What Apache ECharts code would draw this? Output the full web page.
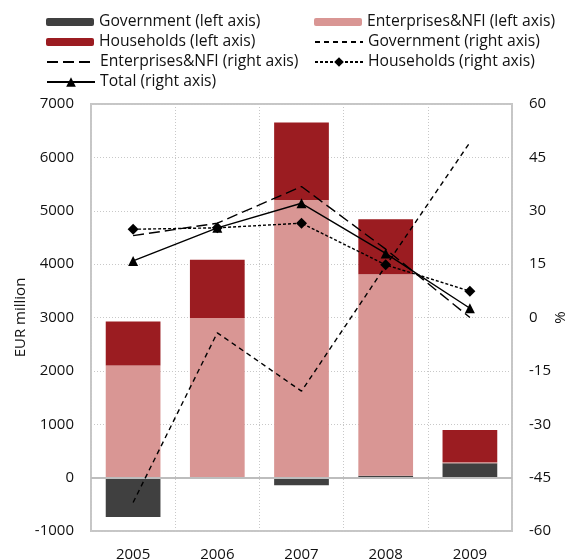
<!DOCTYPE html>
<html>
<head>
<meta charset="utf-8">
<script src="https://cdn.jsdelivr.net/npm/echarts@6/dist/echarts.min.js"></script>
<style>
  html, body { margin: 0; padding: 0; background: #fff; }
  #chart { width: 568px; height: 560px; }
</style>
</head>
<body>
<div id="chart"></div>
<script>
// Categories
const years = ['2005', '2006', '2007', '2008', '2009'];

// Stacked bars, EUR million (left axis)
const govBar = [-740, -25, -145, 35, 268];
const entBar = [2100, 2990, 5200, 3775, 20];
const hhBar  = [825, 1090, 1455, 1030, 605];

// Growth rates, % (right axis)
const govPct = [-52, -4.3, -20.7, 14.5, 49.2];
const entPct = [23, 26.5, 36.8, 19.2, 0];
const hhPct  = [24.8, 25.2, 26.5, 14.8, 7.4];
const totPct = [15.9, 25.2, 32.1, 18.0, 2.6];

// Axis ranges and ticks
const leftAxis  = { min: -1000, max: 7000, interval: 1000 };
const rightAxis = { min: -60, max: 60, interval: 15 };

const FONT = '"Open Sans", "Noto Sans", sans-serif';
const TXT = '#111';
const C_GOV = '#404040';
const C_ENT = '#d99694';
const C_HH  = '#9b1c21';

const chart = echarts.init(document.getElementById('chart'), null, { renderer: 'canvas' });

const legendText = { fontFamily: FONT, fontSize: 15.7, color: TXT, lineHeight: 16 };
const legendBase = {
  orient: 'vertical', itemWidth: 48, itemGap: 4, padding: 0,
  textStyle: legendText, selectedMode: false
};
// line-only legend entries: keep the dashed line, drop the marker
const noMarker = { color: 'rgba(0,0,0,0)', borderWidth: 0 };
const plain = v => String(v);

chart.setOption({
  animation: false,
  backgroundColor: '#fff',
  textStyle: { fontFamily: FONT },
  legend: [
    Object.assign({}, legendBase, { left: 46, top: 14, itemHeight: 8,
      data: ['Government (left axis)', 'Households (left axis)'] }),
    Object.assign({}, legendBase, { left: 314, top: 14, itemHeight: 8,
      data: ['Enterprises&NFI (left axis)'] }),
    Object.assign({}, legendBase, { left: 46, top: 54, itemHeight: 12,
      data: [{ name: 'Enterprises&NFI (right axis)', itemStyle: noMarker }, 'Total (right axis)'] }),
    Object.assign({}, legendBase, { left: 314, top: 34, itemHeight: 12,
      data: [{ name: 'Government (right axis)', itemStyle: noMarker }, 'Households (right axis)'] })
  ],
  grid: { left: 91, right: 56, top: 104, bottom: 29, show: true,
          outerBoundsMode: 'none', containLabel: false,
          borderColor: '#c6c6c6', borderWidth: 2, backgroundColor: 'transparent' },
  xAxis: {
    type: 'category', data: years, boundaryGap: true,
    axisLine: { show: false, onZero: false },
    axisTick: { show: false },
    axisLabel: { fontFamily: FONT, fontSize: 15, color: TXT, margin: 16 },
    splitLine: { show: true, lineStyle: { color: '#c8c8c8', type: [1, 2], width: 1 } }
  },
  yAxis: [
    {
      type: 'value', position: 'left',
      min: leftAxis.min, max: leftAxis.max, interval: leftAxis.interval,
      name: 'EUR million', nameLocation: 'middle', nameRotate: 90, nameGap: 63,
      nameMoveOverlap: false,
      nameTextStyle: { fontFamily: FONT, fontSize: 15, color: TXT },
      axisLine: { show: false }, axisTick: { show: false },
      axisLabel: { fontFamily: FONT, fontSize: 15, color: TXT, margin: 17, formatter: plain },
      splitLine: { show: true, lineStyle: { color: '#c8c8c8', type: [1, 2], width: 1 } }
    },
    {
      type: 'value', position: 'right',
      min: rightAxis.min, max: rightAxis.max, interval: rightAxis.interval,
      name: '%', nameLocation: 'middle', nameRotate: 90, nameGap: 41,
      nameMoveOverlap: false,
      nameTextStyle: { fontFamily: FONT, fontSize: 15, color: TXT },
      axisLine: { show: false }, axisTick: { show: false },
      axisLabel: { fontFamily: FONT, fontSize: 15, color: TXT, margin: 17, formatter: plain },
      splitLine: { show: false }
    }
  ],
  series: [
    {
      name: 'Government (left axis)', type: 'bar', stack: 'lvl', yAxisIndex: 0,
      data: govBar, barWidth: '65%', itemStyle: { color: C_GOV },
      markLine: {
        silent: true, symbol: 'none', label: { show: false },
        lineStyle: { color: '#bdbdbd', type: 'solid', width: 2 },
        data: [{ yAxis: 0 }]
      }
    },
    {
      name: 'Enterprises&NFI (left axis)', type: 'bar', stack: 'lvl', yAxisIndex: 0,
      data: entBar, barWidth: '65%', itemStyle: { color: C_ENT }
    },
    {
      name: 'Households (left axis)', type: 'bar', stack: 'lvl', yAxisIndex: 0,
      data: hhBar, barWidth: '65%', itemStyle: { color: C_HH }
    },
    {
      name: 'Government (right axis)', type: 'line', yAxisIndex: 1, data: govPct,
      symbol: 'none', z: 5,
      lineStyle: { color: '#000', width: 1.4, type: [5, 4] }, itemStyle: { color: '#000' }
    },
    {
      name: 'Enterprises&NFI (right axis)', type: 'line', yAxisIndex: 1, data: entPct,
      symbol: 'none', z: 5,
      lineStyle: { color: '#000', width: 1.4, type: [11, 5] }, itemStyle: { color: '#000' }
    },
    {
      name: 'Households (right axis)', type: 'line', yAxisIndex: 1, data: hhPct,
      symbol: 'diamond', symbolSize: 11, z: 6,
      lineStyle: { color: '#000', width: 1.4, type: [3, 2] }, itemStyle: { color: '#000' }
    },
    {
      name: 'Total (right axis)', type: 'line', yAxisIndex: 1, data: totPct,
      symbol: 'triangle', symbolSize: 10, z: 7,
      lineStyle: { color: '#000', width: 1.4, type: 'solid' }, itemStyle: { color: '#000' }
    }
  ]
});
</script>
</body>
</html>
